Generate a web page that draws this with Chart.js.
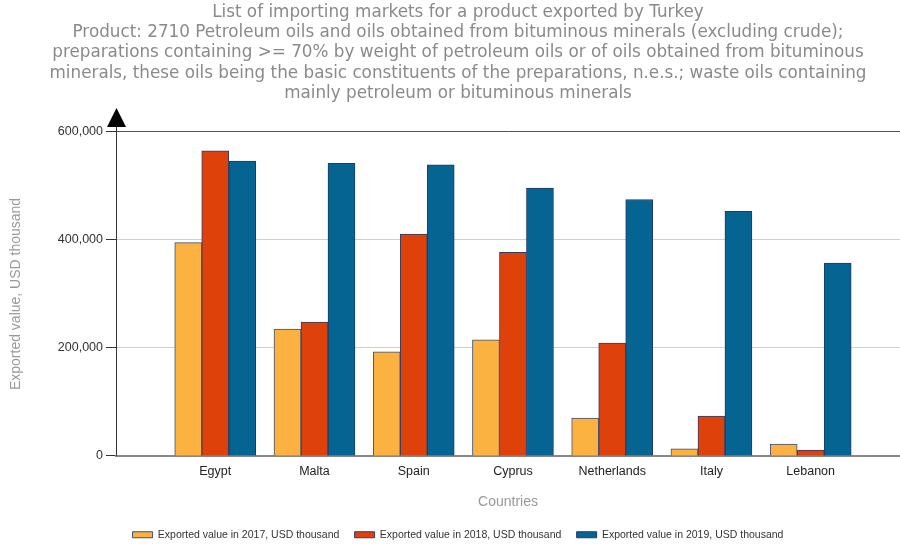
<!DOCTYPE html>
<html>
<head>
<meta charset="utf-8">
<script src="https://cdn.jsdelivr.net/npm/chart.js@4.4.0/dist/chart.umd.min.js"></script>
<style>
  html, body { margin: 0; padding: 0; background: #fff; }
  #wrap { width: 900px; height: 546px; }
</style>
</head>
<body>
<div id="wrap"><canvas id="chart"></canvas></div>
<script>
// Data (USD thousand)
const countries = ['Egypt', 'Malta', 'Spain', 'Cyprus', 'Netherlands', 'Italy', 'Lebanon'];
const value2017 = [395000, 235000, 193000, 215000, 70000, 13000, 22000];
const value2018 = [565000, 248000, 411000, 377000, 209000, 74000, 11000];
const value2019 = [546000, 542000, 539000, 496000, 475000, 453000, 357000];
const yTicks = [0, 200000, 400000, 600000];

const titleLines = [
    'List of importing markets for a product exported by Turkey',
    'Product: 2710 Petroleum oils and oils obtained from bituminous minerals (excluding crude);',
    'preparations containing >= 70% by weight of petroleum oils or of oils obtained from bituminous',
    'minerals, these oils being the basic constituents of the preparations, n.e.s.; waste oils containing',
    'mainly petroleum or bituminous minerals'
];

const AXIS_FONT = "'Liberation Sans', Arial, sans-serif";

// bars sit on a linear x scale so the first group can start one slot in from the axis
function toPoints(values) {
    return values.map((v, i) => ({ x: i, y: v }));
}

// y axis line running past the plot area, with the black arrow head on top
const axisArrow = {
    id: 'axisArrow',
    afterDraw(chart) {
        const { ctx, chartArea } = chart;
        const x = chartArea.left + 0.5;
        const base = chartArea.top - 5;
        ctx.save();
        ctx.strokeStyle = '#333';
        ctx.lineWidth = 1;
        ctx.beginPath();
        ctx.moveTo(x, chartArea.top);
        ctx.lineTo(x, base);
        ctx.stroke();
        ctx.fillStyle = '#000';
        ctx.beginPath();
        ctx.moveTo(x, base - 19);
        ctx.lineTo(x - 9.5, base);
        ctx.lineTo(x + 9.5, base);
        ctx.closePath();
        ctx.fill();
        ctx.restore();
    }
};

new Chart(document.getElementById('chart'), {
    type: 'bar',
    data: {
        datasets: [
            {
                label: 'Exported value in 2017, USD thousand',
                data: toPoints(value2017),
                backgroundColor: '#fbb240',
                borderColor: '#3b4f78',
                borderWidth: 1
            },
            {
                label: 'Exported value in 2018, USD thousand',
                data: toPoints(value2018),
                backgroundColor: '#df410b',
                borderColor: '#2f3c66',
                borderWidth: 1
            },
            {
                label: 'Exported value in 2019, USD thousand',
                data: toPoints(value2019),
                backgroundColor: '#066492',
                borderColor: '#1f3a66',
                borderWidth: 1
            }
        ]
    },
    options: {
        responsive: true,
        maintainAspectRatio: false,
        animation: false,
        barThickness: 27,
        layout: { padding: { left: 16, right: 0, top: 0, bottom: -4 } },
        plugins: {
            title: {
                display: true,
                text: titleLines,
                color: '#8a8a8a',
                font: { family: "'DejaVu Sans', sans-serif", size: 16.8, weight: 'normal', lineHeight: 1.214 },
                padding: { top: 2, bottom: 28 }
            },
            legend: {
                position: 'bottom',
                labels: {
                    boxWidth: 20,
                    boxHeight: 6,
                    padding: 15.25,
                    color: '#333',
                    font: { family: AXIS_FONT, size: 10.5 }
                }
            },
            tooltip: { enabled: false }
        },
        scales: {
            x: {
                type: 'linear',
                min: -1,
                max: 6.9,
                offset: false,
                grid: { display: false, drawTicks: true, tickLength: 8, offset: false },
                border: { color: '#888', width: 2 },
                ticks: {
                    stepSize: 1,
                    autoSkip: false,
                    maxRotation: 0,
                    padding: 0,
                    color: '#222',
                    font: { family: AXIS_FONT, size: 12.5 },
                    callback: v => countries[v] ?? ''
                },
                title: {
                    display: true,
                    text: 'Countries',
                    color: '#999',
                    font: { family: AXIS_FONT, size: 14 },
                    padding: { top: 15, bottom: 3.5 }
                }
            },
            y: {
                min: 0,
                max: 600000,
                afterFit: s => { s.width = 100; },
                afterBuildTicks: s => { s.ticks = yTicks.map(v => ({ value: v })); },
                grid: {
                    color: c => c.tick.value === 600000 ? '#3d5186' : (c.tick.value === 0 ? '#888' : '#cfcfcf'),
                    tickColor: '#333',
                    tickLength: 10
                },
                border: { color: '#333', width: 1 },
                ticks: {
                    color: '#333',
                    padding: 3,
                    font: { family: AXIS_FONT, size: 12.5 },
                    callback: v => v.toLocaleString('en-US')
                },
                title: {
                    display: true,
                    text: 'Exported value, USD thousand',
                    color: '#999',
                    font: { family: AXIS_FONT, size: 14 },
                    padding: { top: -8, bottom: 0 }
                }
            }
        }
    },
    plugins: [axisArrow]
});
</script>
</body>
</html>
